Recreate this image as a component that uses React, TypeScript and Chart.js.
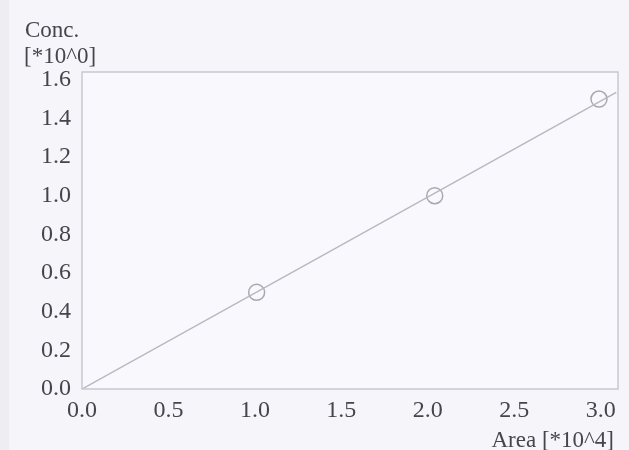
import React, { useEffect, useRef } from "react";
import { Chart, registerables } from "chart.js";

Chart.register(...registerables);

const areaValues = [1.01, 2.04, 2.99];
const concValues = [0.5, 1.0, 1.5];
const fitLineX = [0, 3.09];
const fitLineY = [0, 1.535];
const xTicks = [0, 0.5, 1.0, 1.5, 2.0, 2.5, 3.0];
const yTicks = [0, 0.2, 0.4, 0.6, 0.8, 1.0, 1.2, 1.4, 1.6];
const yTitleLines = ["Conc.", "[*10^0]"];
const xTitle = "Area [*10^4]";

const FONT = "'Liberation Serif', 'Times New Roman', 'DejaVu Serif', serif";
const TEXT = "#46454d";

const decorPlugin = {
  id: "decor",
  beforeDraw(chart: any) {
    const { ctx, chartArea } = chart;
    ctx.save();
    ctx.fillStyle = "#f6f5fa";
    ctx.fillRect(0, 0, chart.width, chart.height);
    ctx.fillStyle = "#eeedf2";
    ctx.fillRect(0, 0, 9, chart.height);
    ctx.fillStyle = "#f9f8fc";
    ctx.fillRect(chartArea.left, chartArea.top, chartArea.right - chartArea.left, chartArea.bottom - chartArea.top);
    ctx.restore();
  },
  afterDraw(chart: any) {
    const { ctx, chartArea } = chart;
    ctx.save();
    ctx.strokeStyle = "#c9c8d2";
    ctx.lineWidth = 1.5;
    ctx.strokeRect(chartArea.left, chartArea.top, chartArea.right - chartArea.left, chartArea.bottom - chartArea.top);
    ctx.fillStyle = TEXT;
    ctx.font = `23px ${FONT}`;
    ctx.textBaseline = "alphabetic";
    ctx.textAlign = "left";
    ctx.fillText(yTitleLines[0], 25, 37);
    ctx.fillText(yTitleLines[1], 24, 63);
    ctx.textAlign = "right";
    ctx.fillText(xTitle, 614, 447);
    ctx.restore();
  },
};

export default function App() {
  const ref = useRef<HTMLCanvasElement | null>(null);
  useEffect(() => {
    if (!ref.current) return;
    const chart = new Chart(ref.current, {
      type: "scatter",
      data: {
        datasets: [
          {
            label: "fit",
            data: fitLineX.map((x, i) => ({ x, y: fitLineY[i] })),
            showLine: true,
            borderColor: "#b9b8c2",
            borderWidth: 1.5,
            pointRadius: 0,
          },
          {
            label: "points",
            data: areaValues.map((x, i) => ({ x, y: concValues[i] })),
            showLine: false,
            pointRadius: 8,
            pointBorderWidth: 1.5,
            pointBorderColor: "#a9a8b2",
            pointBackgroundColor: "rgba(0,0,0,0)",
          },
        ],
      },
      options: {
        animation: false,
        responsive: false,
        maintainAspectRatio: false,
        layout: { padding: { top: 72, right: 11, bottom: 0, left: 0 } },
        plugins: { legend: { display: false }, tooltip: { enabled: false } },
        scales: {
          x: {
            type: "linear",
            min: 0,
            max: 3.1,
            afterFit: (s: any) => { s.height = 61; },
            afterBuildTicks: (s: any) => { s.ticks = xTicks.map((v) => ({ value: v })); },
            grid: { display: false, drawTicks: false },
            border: { display: false },
            ticks: {
              padding: 7,
              maxRotation: 0,
              autoSkip: false,
              color: TEXT,
              font: { family: FONT, size: 24 },
              callback: (v: any) => Number(v).toFixed(1),
            },
          },
          y: {
            type: "linear",
            min: 0,
            max: 1.64,
            afterFit: (s: any) => { s.width = 82; },
            afterBuildTicks: (s: any) => { s.ticks = yTicks.map((v) => ({ value: v })); },
            grid: { display: false, drawTicks: false },
            border: { display: false },
            ticks: {
              padding: 11,
              autoSkip: false,
              color: TEXT,
              font: { family: FONT, size: 24 },
              callback: (v: any) => Number(v).toFixed(1),
            },
          },
        },
      },
      plugins: [decorPlugin],
    });
    return () => chart.destroy();
  }, []);
  return (
    <div style={{ position: "fixed", left: 0, top: 0, width: 629, height: 450 }}>
      <canvas ref={ref} width={629} height={450} style={{ display: "block" }} />
    </div>
  );
}
